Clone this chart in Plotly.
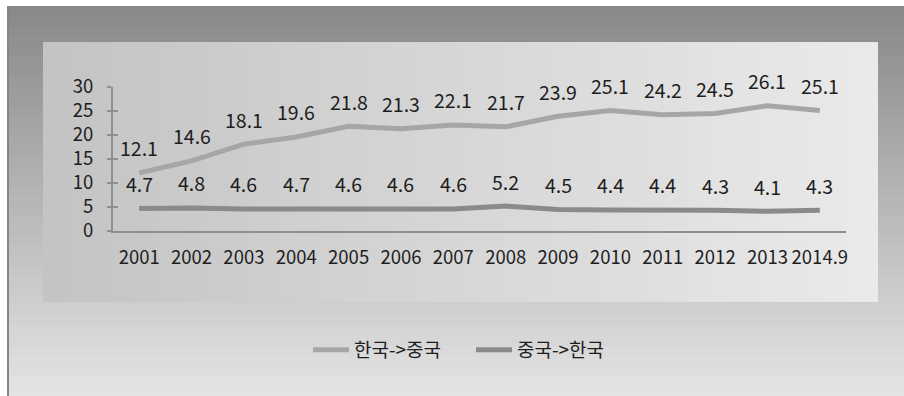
import plotly.graph_objects as go

# ---- data ----
years = ["2001", "2002", "2003", "2004", "2005", "2006", "2007",
         "2008", "2009", "2010", "2011", "2012", "2013", "2014.9"]
kr_to_cn = [12.1, 14.6, 18.1, 19.6, 21.8, 21.3, 22.1, 21.7, 23.9, 25.1, 24.2, 24.5, 26.1, 25.1]
cn_to_kr = [4.7, 4.8, 4.6, 4.7, 4.6, 4.6, 4.6, 5.2, 4.5, 4.4, 4.4, 4.3, 4.1, 4.3]
name_kr_cn = "한국->중국"
name_cn_kr = "중국->한국"
y_ticks = [0, 5, 10, 15, 20, 25, 30]

# ---- canvas geometry (pixels) ----
W, H = 904, 396
PL, PR, PT, PB = 113, 846, 87, 231   # plot area edges
PW, PH = PR - PL, PB - PT

FONT = "Noto Sans CJK KR, Noto Sans, sans-serif"
TXT = "#1e1e1e"
AXIS = "#8f8f8f"
C1 = "#a6a6a6"
C2 = "#8a8a8a"


def px_x(px):
    return (px - PL) / PW


def px_y(py):
    return (PB - py) / PH


def grey(v):
    v = int(round(v))
    return f"rgb({v},{v},{v})"


shapes = []

# outer panel: stepped vertical gradient, dark at top
ox0, ox1, oy0, oy1 = 7, 904, 6, 396
band = 10
yy = oy0
n_out = (oy1 - oy0 + band - 1) // band
i = 0
while yy < oy1:
    yy2 = min(yy + band, oy1)
    t = i / max(n_out - 1, 1)
    shapes.append(dict(type="rect", xref="paper", yref="paper", layer="below",
                       x0=px_x(ox0), x1=px_x(ox1), y0=px_y(yy2), y1=px_y(yy),
                       fillcolor=grey(137 + t * (227 - 137)), line=dict(width=0)))
    yy = yy2
    i += 1

# left edge of the outer panel
shapes.append(dict(type="line", xref="paper", yref="paper", layer="below",
                   x0=px_x(8), x1=px_x(8), y0=px_y(oy1), y1=px_y(oy0),
                   line=dict(color="#858585", width=2)))

# inner panel: stepped horizontal gradient, dark at left
ix0, ix1, iy0, iy1 = 43, 878, 42, 302
band = 23
xx = ix0
n_in = (ix1 - ix0 + band - 1) // band
i = 0
while xx < ix1:
    xx2 = min(xx + band, ix1)
    t = i / max(n_in - 1, 1)
    shapes.append(dict(type="rect", xref="paper", yref="paper", layer="below",
                       x0=px_x(xx), x1=px_x(xx2), y0=px_y(iy1), y1=px_y(iy0),
                       fillcolor=grey(196 + t * (234 - 196)), line=dict(width=0)))
    xx = xx2
    i += 1

fig = go.Figure()
fig.add_trace(go.Scatter(x=years, y=kr_to_cn, name=name_kr_cn, mode="lines",
                         line=dict(color=C1, width=5), yaxis="y"))
fig.add_trace(go.Scatter(x=years, y=cn_to_kr, name=name_cn_kr, mode="lines",
                         line=dict(color=C2, width=5), yaxis="y2"))

# value labels above every point (category index positions)
annotations = []
for series in (kr_to_cn, cn_to_kr):
    for idx, v in enumerate(series):
        annotations.append(dict(x=idx, y=v, xref="x", yref="y", text=f"{v:.1f}",
                                showarrow=False, yshift=25, yanchor="middle",
                                font=dict(family=FONT, size=19.5, color=TXT)))

fig.update_layout(
    width=W, height=H,
    margin=dict(l=PL, r=W - PR, t=PT, b=H - PB, pad=0),
    paper_bgcolor="white",
    plot_bgcolor="rgba(0,0,0,0)",
    font=dict(family=FONT, size=18, color=TXT),
    shapes=shapes,
    annotations=annotations,
    showlegend=True,
    legend=dict(orientation="h", x=px_x(308), xanchor="left",
                y=px_y(350), yanchor="middle",
                bgcolor="rgba(0,0,0,0)", font=dict(family=FONT, size=19, color=TXT),
                itemwidth=36, entrywidth=112, entrywidthmode="pixels",
                tracegroupgap=0),
    xaxis=dict(type="category", range=[-0.5, len(years) - 0.5],
               showline=True, linecolor=AXIS, linewidth=2,
               showgrid=False, zeroline=False, ticks="",
               ticklabelstandoff=9,
               tickfont=dict(family=FONT, size=18.5, color=TXT)),
    yaxis=dict(range=[0, 30], tickvals=y_ticks, showline=True, linecolor=AXIS,
               linewidth=2, showgrid=False, zeroline=False,
               ticks="outside", ticklen=4, tickwidth=2, tickcolor=AXIS,
               ticklabelstandoff=10,
               tickfont=dict(family=FONT, size=18.5, color=TXT)),
    yaxis2=dict(range=[0, 30], tickvals=y_ticks, overlaying="y", side="left",
                anchor="x", showline=False, showgrid=False, zeroline=False,
                ticks="inside", ticklen=5, tickwidth=2, tickcolor=AXIS,
                showticklabels=False),
)

fig.write_html("out.html")
